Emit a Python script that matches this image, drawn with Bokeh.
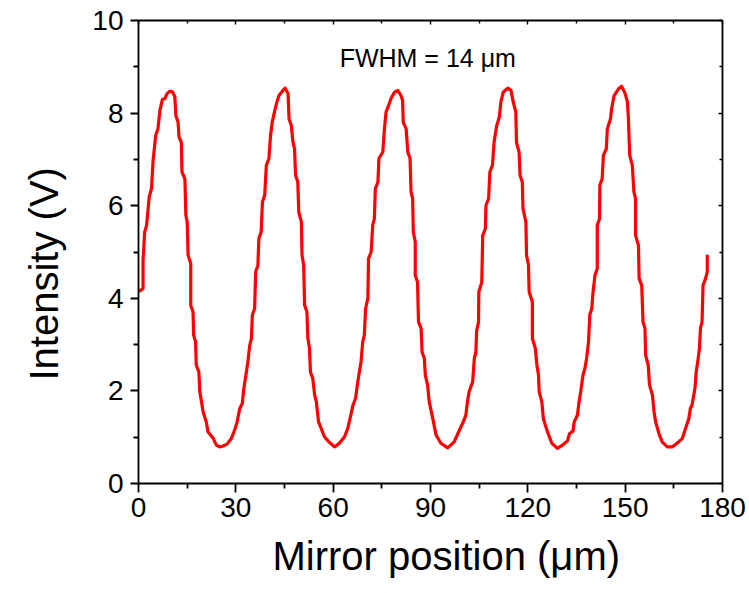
from bokeh.plotting import figure
from bokeh.models import LinearAxis, Range1d, FixedTicker, Label, CustomJSTickFormatter, Title
from bokeh.embed import file_html
from bokeh.resources import INLINE

# ---- data ----
mirror_position = [
    0.2, 1.4, 1.4, 1.9, 2.5, 3.3, 4.0, 4.5, 5.3, 6.0, 6.6, 7.4, 8.1, 8.8, 9.6, 10.5,
    11.2, 11.5, 12.2, 12.5, 13.2, 13.4, 14.3, 14.6, 15.0, 15.3, 16.1, 16.1, 16.8, 17.0,
    17.6, 17.8, 18.6, 18.9, 19.4, 19.9, 20.9, 21.4, 22.2, 23.0, 24.0, 25.0, 26.1, 27.3,
    28.6, 29.6, 30.4, 31.2, 32.0, 32.4, 33.2, 33.7, 34.3, 34.8, 35.1, 35.8, 36.1, 36.8,
    37.1, 37.8, 38.2, 38.9, 39.4, 40.2, 40.7, 41.2, 41.9, 42.5, 43.3, 44.5, 45.2, 46.1,
    46.4, 47.1, 47.6, 48.1, 48.4, 49.1, 49.4, 50.2, 50.4, 50.9, 51.2, 51.9, 52.2, 52.7,
    53.0, 53.7, 54.3, 54.8, 55.5, 56.3, 57.3, 58.7, 60.4, 61.9, 63.5, 64.5, 65.2, 66.1,
    66.9, 67.3, 67.9, 68.6, 69.1, 69.6, 70.0, 70.7, 70.9, 71.7, 72.2, 72.7, 73.0, 73.8,
    74.1, 75.3, 75.8, 76.3, 77.1, 77.8, 78.9, 79.9, 80.9, 81.4, 81.6, 82.5, 83.0, 83.7,
    84.0, 84.5, 84.7, 85.3, 85.3, 86.0, 86.3, 87.1, 87.4, 88.1, 88.4, 89.1, 89.6, 90.7,
    91.7, 93.2, 95.3, 97.3, 98.9, 100.1, 100.9, 101.4, 101.9, 103.0, 103.5, 104.0, 104.2,
    104.8, 104.9, 105.8, 106.1, 106.9, 107.1, 107.9, 108.3, 109.1, 109.6, 110.4, 111.2,
    111.7, 112.4, 113.8, 114.8, 115.5, 116.3, 116.5, 117.3, 117.6, 118.3, 118.5, 119.4,
    119.6, 120.2, 120.4, 121.4, 121.4, 122.3, 122.8, 123.3, 123.5, 124.3, 124.8, 125.4,
    126.4, 127.4, 129.1, 130.7, 132.2, 132.9, 133.9, 134.3, 135.3, 135.8, 136.3, 137.0,
    137.6, 138.1, 138.7, 139.1, 139.7, 140.1, 140.7, 141.4, 141.4, 142.1, 142.2, 142.9,
    143.3, 144.2, 144.5, 145.5, 145.8, 146.6, 147.9, 148.9, 150.0, 150.7, 151.0, 151.4,
    152.2, 152.7, 153.2, 153.2, 154.1, 154.3, 155.1, 155.5, 156.1, 156.3, 157.1, 157.5,
    158.4, 158.9, 159.4, 160.4, 161.4, 163.0, 164.5, 166.0, 167.6, 168.6, 169.6, 170.1,
    170.6, 171.5, 171.9, 172.5, 172.9, 173.2, 173.7, 174.0, 174.8, 175.3, 175.3,
]
intensity = [
    4.15, 4.21, 4.82, 5.43, 5.58, 6.19, 6.37, 6.98, 7.52, 7.66, 8.06, 8.30, 8.31, 8.42, 8.47, 8.46,
    8.35, 7.95, 7.80, 7.48, 7.37, 6.73, 6.58, 5.79, 5.65, 4.93, 4.75, 3.85, 3.71, 3.20,
    3.06, 2.56, 2.41, 1.98, 1.77, 1.55, 1.33, 1.12, 1.05, 0.98, 0.83, 0.79, 0.81, 0.85,
    0.97, 1.15, 1.33, 1.62, 1.73, 2.02, 2.38, 2.63, 2.99, 3.13, 3.64, 3.78, 4.57, 4.71,
    5.29, 5.43, 6.08, 6.23, 6.87, 7.02, 7.52, 7.80, 8.02, 8.20, 8.38, 8.49, 8.54, 8.42,
    7.88, 7.73, 7.38, 7.23, 6.66, 6.51, 5.86, 5.65, 4.93, 4.72, 3.85, 3.71, 3.13, 2.92,
    2.41, 2.27, 1.91, 1.77, 1.33, 1.19, 1.01, 0.90, 0.79, 0.87, 1.01, 1.19, 1.40, 1.69,
    1.84, 2.05, 2.34, 2.63, 3.06, 3.20, 3.78, 4.00, 4.86, 5.00, 5.58, 5.72, 6.37, 6.51,
    7.02, 7.16, 7.66, 8.02, 8.17, 8.31, 8.45, 8.49, 8.38, 8.27, 7.80, 7.66, 7.16, 7.02,
    6.30, 6.15, 5.43, 5.22, 4.50, 4.35, 3.49, 3.35, 2.84, 2.70, 2.34, 2.13, 1.77, 1.40,
    1.05, 0.87, 0.77, 0.90, 1.15, 1.33, 1.48, 1.77, 1.98, 2.20, 2.70, 2.84, 3.28,
    3.49, 4.14, 4.35, 5.36, 5.50, 6.01, 6.15, 6.73, 6.87, 7.37, 7.73, 7.91,
    8.24, 8.45, 8.54, 8.49, 8.24, 8.02, 7.37, 7.16, 6.66, 6.51, 5.94, 5.65,
    4.93, 4.72, 4.14, 3.92, 3.13, 2.92, 2.56, 2.34, 1.98, 1.77, 1.40, 1.26,
    1.05, 0.87, 0.76, 0.83, 0.92, 1.08, 1.13, 1.33, 1.48, 1.77, 1.98, 2.34,
    2.49, 2.70, 3.06, 3.64, 3.78, 4.14, 4.50, 4.64, 5.58, 5.72, 6.44, 6.58,
    7.09, 7.23, 7.66, 7.88, 8.09, 8.38, 8.52, 8.58, 8.42, 8.24, 7.88, 7.09,
    6.87, 6.30, 6.15, 5.36, 5.14, 4.43, 4.28, 3.49, 3.35, 2.77, 2.56, 2.13,
    1.91, 1.55, 1.33, 1.08, 0.90, 0.79, 0.79, 0.87, 0.97, 1.19, 1.40, 1.62,
    1.69, 2.05, 2.41, 2.70, 2.92, 3.35, 3.49, 4.28, 4.43, 4.57, 4.94,
]

x_major_ticks = [0, 30, 60, 90, 120, 150, 180]
x_minor_ticks = [15, 45, 75, 105, 135, 165]
y_major_ticks = [0, 2, 4, 6, 8, 10]
y_minor_ticks = [1, 3, 5, 7, 9]

x_title = "Mirror position (\u03bcm)"
y_title = "Intensity (V)"
note_text = "FWHM = 14 \u03bcm"
note_pos = (62.0, 9.18)

FONT = "Liberation Sans"

p = figure(width=749, height=593, x_range=Range1d(0, 180), y_range=Range1d(0, 10),
           output_backend="svg", toolbar_location=None)
p.min_border_left = 137
p.min_border_right = 27
p.min_border_top = 20
p.min_border_bottom = 110
p.outline_line_color = None
p.xgrid.visible = False
p.ygrid.visible = False
p.background_fill_color = "white"
p.border_fill_color = "white"

def style_main(ax, ticks, minor):
    ax.ticker = FixedTicker(ticks=ticks, minor_ticks=minor)
    ax.axis_line_color = "black"
    ax.axis_line_width = 1.8
    ax.major_tick_line_color = "black"
    ax.minor_tick_line_color = "black"
    ax.major_tick_line_width = 1.8
    ax.minor_tick_line_width = 1.8
    ax.major_tick_in = 0
    ax.major_tick_out = 8
    ax.minor_tick_in = 0
    ax.minor_tick_out = 5
    ax.major_label_text_font = FONT
    ax.major_label_text_font_size = "28px"
    ax.major_label_text_color = "black"

xa = p.xaxis[0]
ya = p.yaxis[0]
style_main(xa, x_major_ticks, x_minor_ticks)
style_main(ya, y_major_ticks, y_minor_ticks)
xa.major_tick_out = 9
xa.major_label_standoff = 5
ya.major_label_standoff = 7

def mirror_axis(ticks, minor):
    ax = LinearAxis(ticker=FixedTicker(ticks=ticks, minor_ticks=minor),
                    formatter=CustomJSTickFormatter(code="return ''"))
    ax.axis_line_color = "black"
    ax.axis_line_width = 1.8
    ax.major_tick_line_color = "black"
    ax.minor_tick_line_color = "black"
    ax.major_tick_line_width = 1.4
    ax.minor_tick_line_width = 1.4
    ax.major_tick_in = 4
    ax.major_tick_out = 0
    ax.minor_tick_in = 3
    ax.minor_tick_out = 0
    ax.major_label_text_font_size = "0px"
    ax.major_label_standoff = 0
    return ax

p.add_layout(mirror_axis(x_major_ticks, x_minor_ticks), "above")
p.add_layout(mirror_axis(y_major_ticks, y_minor_ticks), "right")

p.line(mirror_position, intensity, line_color="#ff0000", line_width=3.2, line_join="round")

p.add_layout(Label(x=note_pos[0], y=note_pos[1], text=note_text, text_font=FONT,
                   text_font_size="25px", text_color="black",
                   text_baseline="alphabetic", text_align="left"))

p.add_layout(Title(text=x_title, align="left", offset=134, standoff=24,
                   vertical_align="bottom",
                   text_font=FONT, text_font_size="40px", text_font_style="normal",
                   text_color="black"), "below")
p.add_layout(Title(text=y_title, align="left", offset=103, standoff=43,
                   vertical_align="top",
                   text_font=FONT, text_font_size="40px", text_font_style="normal",
                   text_color="black"), "left")

open("out.html", "w").write(file_html(p, INLINE))
